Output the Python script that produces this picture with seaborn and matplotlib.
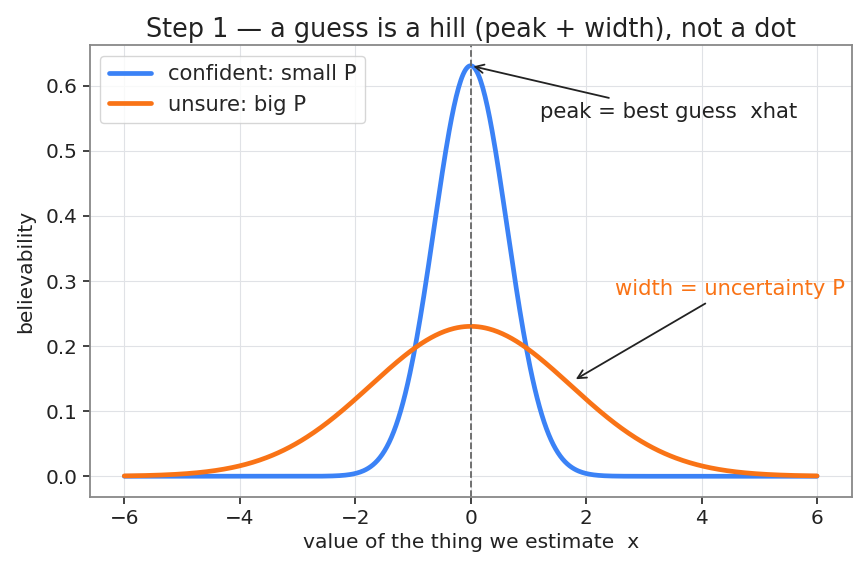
import matplotlib
matplotlib.use('Agg')

import matplotlib.pyplot as plt
import seaborn as sns
import pandas as pd
import numpy as np

# the two guesses: same best guess xhat, different uncertainty P (variance)
labels = ['confident: small P', 'unsure: big P']
xhat = 0.0
P_values = [0.4, 3.0]
colors = ['#3B82F6', '#F97316']
x_range = (-6, 6)


def gaussian(x, mean, var):
    return np.exp(-(x - mean) ** 2 / (2 * var)) / np.sqrt(2 * np.pi * var)


def main():
    sns.set_theme(style='whitegrid', rc={
        'axes.edgecolor': '#888888',
        'axes.linewidth': 1.3,
        'grid.color': '#e0e2e6',
        'grid.linewidth': 0.8,
        'xtick.bottom': True,
        'ytick.left': True,
        'xtick.color': '#333333',
        'ytick.color': '#333333',
        'xtick.major.size': 5,
        'ytick.major.size': 5,
        'xtick.major.width': 1.3,
        'ytick.major.width': 1.3,
    })
    plt.rcParams['font.family'] = ['DejaVu Sans']

    x = np.linspace(x_range[0], x_range[1], 600)
    frames = []
    for lab, P in zip(labels, P_values):
        frames.append(pd.DataFrame({'x': x, 'y': gaussian(x, xhat, P), 'guess': lab}))
    df = pd.concat(frames, ignore_index=True)

    fig, ax = plt.subplots(figsize=(8.62, 5.73), dpi=100)
    sns.lineplot(data=df, x='x', y='y', hue='guess', palette=colors, linewidth=3.4, ax=ax)
    ax.axvline(xhat, color='#666666', linestyle='--', linewidth=1.3)

    peak = gaussian(xhat, xhat, P_values[0])
    ax.annotate('peak = best guess  xhat', xy=(xhat, peak), xytext=(3.43, 0.56),
                ha='center', va='center', fontsize=15.2, color='#222222',
                arrowprops=dict(arrowstyle='->', color='#222222', lw=1.3))
    ax.annotate('width = uncertainty P', xy=(1.78, 0.147), xytext=(4.5, 0.288),
                ha='center', va='center', fontsize=15.2, color='#F97316',
                arrowprops=dict(arrowstyle='->', color='#222222', lw=1.3))

    ax.set_title('Step 1 — a guess is a hill (peak + width), not a dot', fontsize=18.4, color='#222222')
    ax.set_xlabel('value of the thing we estimate  x', fontsize=14.6, color='#222222')
    ax.set_ylabel('believability', fontsize=14.6, color='#222222', labelpad=8)
    ax.tick_params(labelsize=14.4, labelcolor='#222222')
    ax.legend(title=None, loc='upper left', fontsize=15.2)

    fig.subplots_adjust(left=0.104, right=0.988, top=0.921, bottom=0.133)
    fig.savefig('out.png', dpi=100)


if __name__ == "__main__":
    main()
